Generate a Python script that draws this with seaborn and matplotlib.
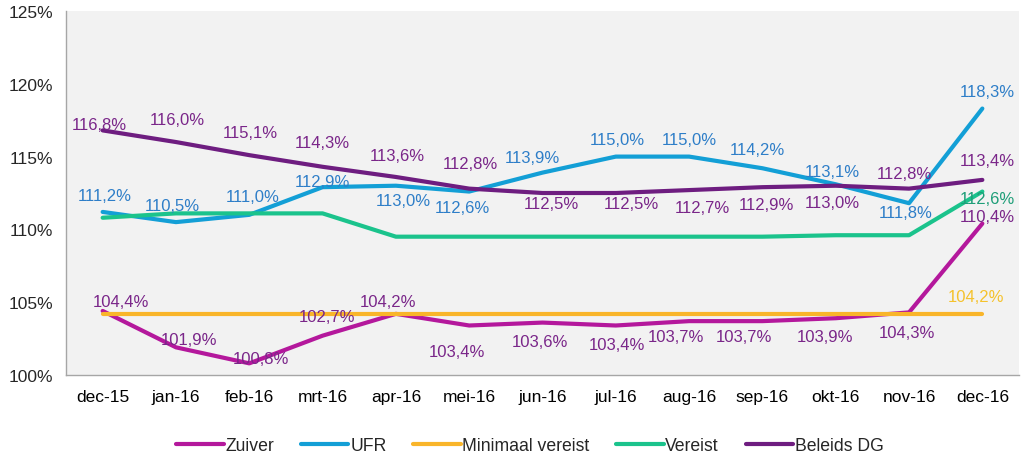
import numpy as np
import pandas as pd
import matplotlib
matplotlib.use("Agg")
import matplotlib.pyplot as plt
from matplotlib.ticker import FuncFormatter, FixedLocator
import seaborn as sns

# Data
maanden = ['dec-15', 'jan-16', 'feb-16', 'mrt-16', 'apr-16', 'mei-16', 'jun-16',
           'jul-16', 'aug-16', 'sep-16', 'okt-16', 'nov-16', 'dec-16']
zuiver = [104.4, 101.9, 100.8, 102.7, 104.2, 103.4, 103.6, 103.4, 103.7, 103.7, 103.9, 104.3, 110.4]
ufr = [111.2, 110.5, 111.0, 112.9, 113.0, 112.6, 113.9, 115.0, 115.0, 114.2, 113.1, 111.8, 118.3]
minimaal = [104.2] * 13
vereist = [110.8, 111.1, 111.1, 111.1, 109.5, 109.5, 109.5, 109.5, 109.5, 109.5, 109.6, 109.6, 112.6]
beleids = [116.8, 116.0, 115.1, 114.3, 113.6, 112.8, 112.5, 112.5, 112.7, 112.9, 113.0, 112.8, 113.4]

reeksen = ['Zuiver', 'UFR', 'Minimaal vereist', 'Vereist', 'Beleids DG']
kleuren = ['#B4189C', '#139FD6', '#F9B52A', '#1BC38C', '#6E1D80']

df = pd.DataFrame({'maand': maanden, 'Zuiver': zuiver, 'UFR': ufr,
                   'Minimaal vereist': minimaal, 'Vereist': vereist, 'Beleids DG': beleids})
df_long = df.melt(id_vars='maand', var_name='reeks', value_name='waarde')

sns.set_style("white")
plt.rcParams['font.family'] = ['Liberation Sans', 'DejaVu Sans']

fig = plt.figure(figsize=(10.24, 4.64), dpi=100)
ax = fig.add_axes([66 / 1024, 88 / 464, 953 / 1024, 364 / 464])
ax.set_facecolor('#F2F2F2')

sns.lineplot(data=df_long, x='maand', y='waarde', hue='reeks', hue_order=reeksen,
             palette=kleuren, linewidth=3, sort=False, ax=ax)

# data labels: (reeks, waarden, tekstkleur, offsets in pixels)
lbl_cfg = [
    ('Beleids DG', beleids, '#7A2689',
     [(-3, 6), (1, 23), (1, 23), (0, 24), (1, 21), (1, 25), (9, -11), (16, -11),
      (13, -17), (4, -17), (-3, -17), (-5, 15), (5, 19)]),
    ('UFR', ufr, '#2E7EC8',
     [(2, 16), (-4, 17), (3, 18), (0, 6), (7, -15), (-7, -16), (-10, 15), (2, 17),
      (0, 17), (-5, 19), (-3, 13), (-3, -9), (5, 17)]),
    ('Zuiver', zuiver, '#7A2689',
     [(18, 9), (13, 8), (12, 5), (4, 19), (-8, 12), (-12, -26), (-3, -19), (1, -19),
      (-13, -15), (-18, -15), (-11, -18), (-2, -20), (5, 7)]),
]
for naam, waarden, kleur, offs in lbl_cfg:
    for i, (v, (dx, dy)) in enumerate(zip(waarden, offs)):
        ax.annotate(f'{v:.1f}%'.replace('.', ','), (i, v), xytext=(dx, dy),
                    textcoords='offset pixels', ha='center', va='center',
                    fontsize=12, color=kleur)

ax.annotate(f'{vereist[-1]:.1f}%'.replace('.', ','), (12, vereist[-1]), xytext=(5, -7),
            textcoords='offset pixels', ha='center', va='center', fontsize=12, color='#1E9E78')
ax.annotate(f'{minimaal[-1]:.1f}%'.replace('.', ','), (12, minimaal[-1]), xytext=(-6, 17),
            textcoords='offset pixels', ha='center', va='center', fontsize=12, color='#F5C22C')

# axes
ax.set_xlim(-0.5, 12.5)
ax.set_ylim(100, 125)
ax.set_yticks(np.arange(100, 126, 5))
ax.yaxis.set_major_formatter(FuncFormatter(lambda v, p: f'{v:.0f}%'))
ax.xaxis.set_minor_locator(FixedLocator(np.arange(-0.5, 13, 1)))
ax.tick_params(axis='x', which='major', length=0, labelsize=12.5, pad=10, colors='#000000')
ax.tick_params(axis='x', which='minor', length=5, color='#A6A6A6', width=1)
ax.tick_params(axis='y', length=5, color='#A6A6A6', labelsize=12.5, pad=4.5)
ax.set_xlabel('')
ax.set_ylabel('')
for s in ['top', 'right']:
    ax.spines[s].set_visible(False)
for s in ['left', 'bottom']:
    ax.spines[s].set_color('#A6A6A6')
    ax.spines[s].set_linewidth(1)

handles, labels = ax.get_legend_handles_labels()
ax.legend(handles, labels, loc='center', bbox_to_anchor=(530 / 1024, 17 / 464), bbox_transform=fig.transFigure,
          ncol=5, frameon=False, fontsize=12.7, handlelength=2.7, handletextpad=0.1,
          columnspacing=1.5)

fig.savefig('out.png', dpi=100)
